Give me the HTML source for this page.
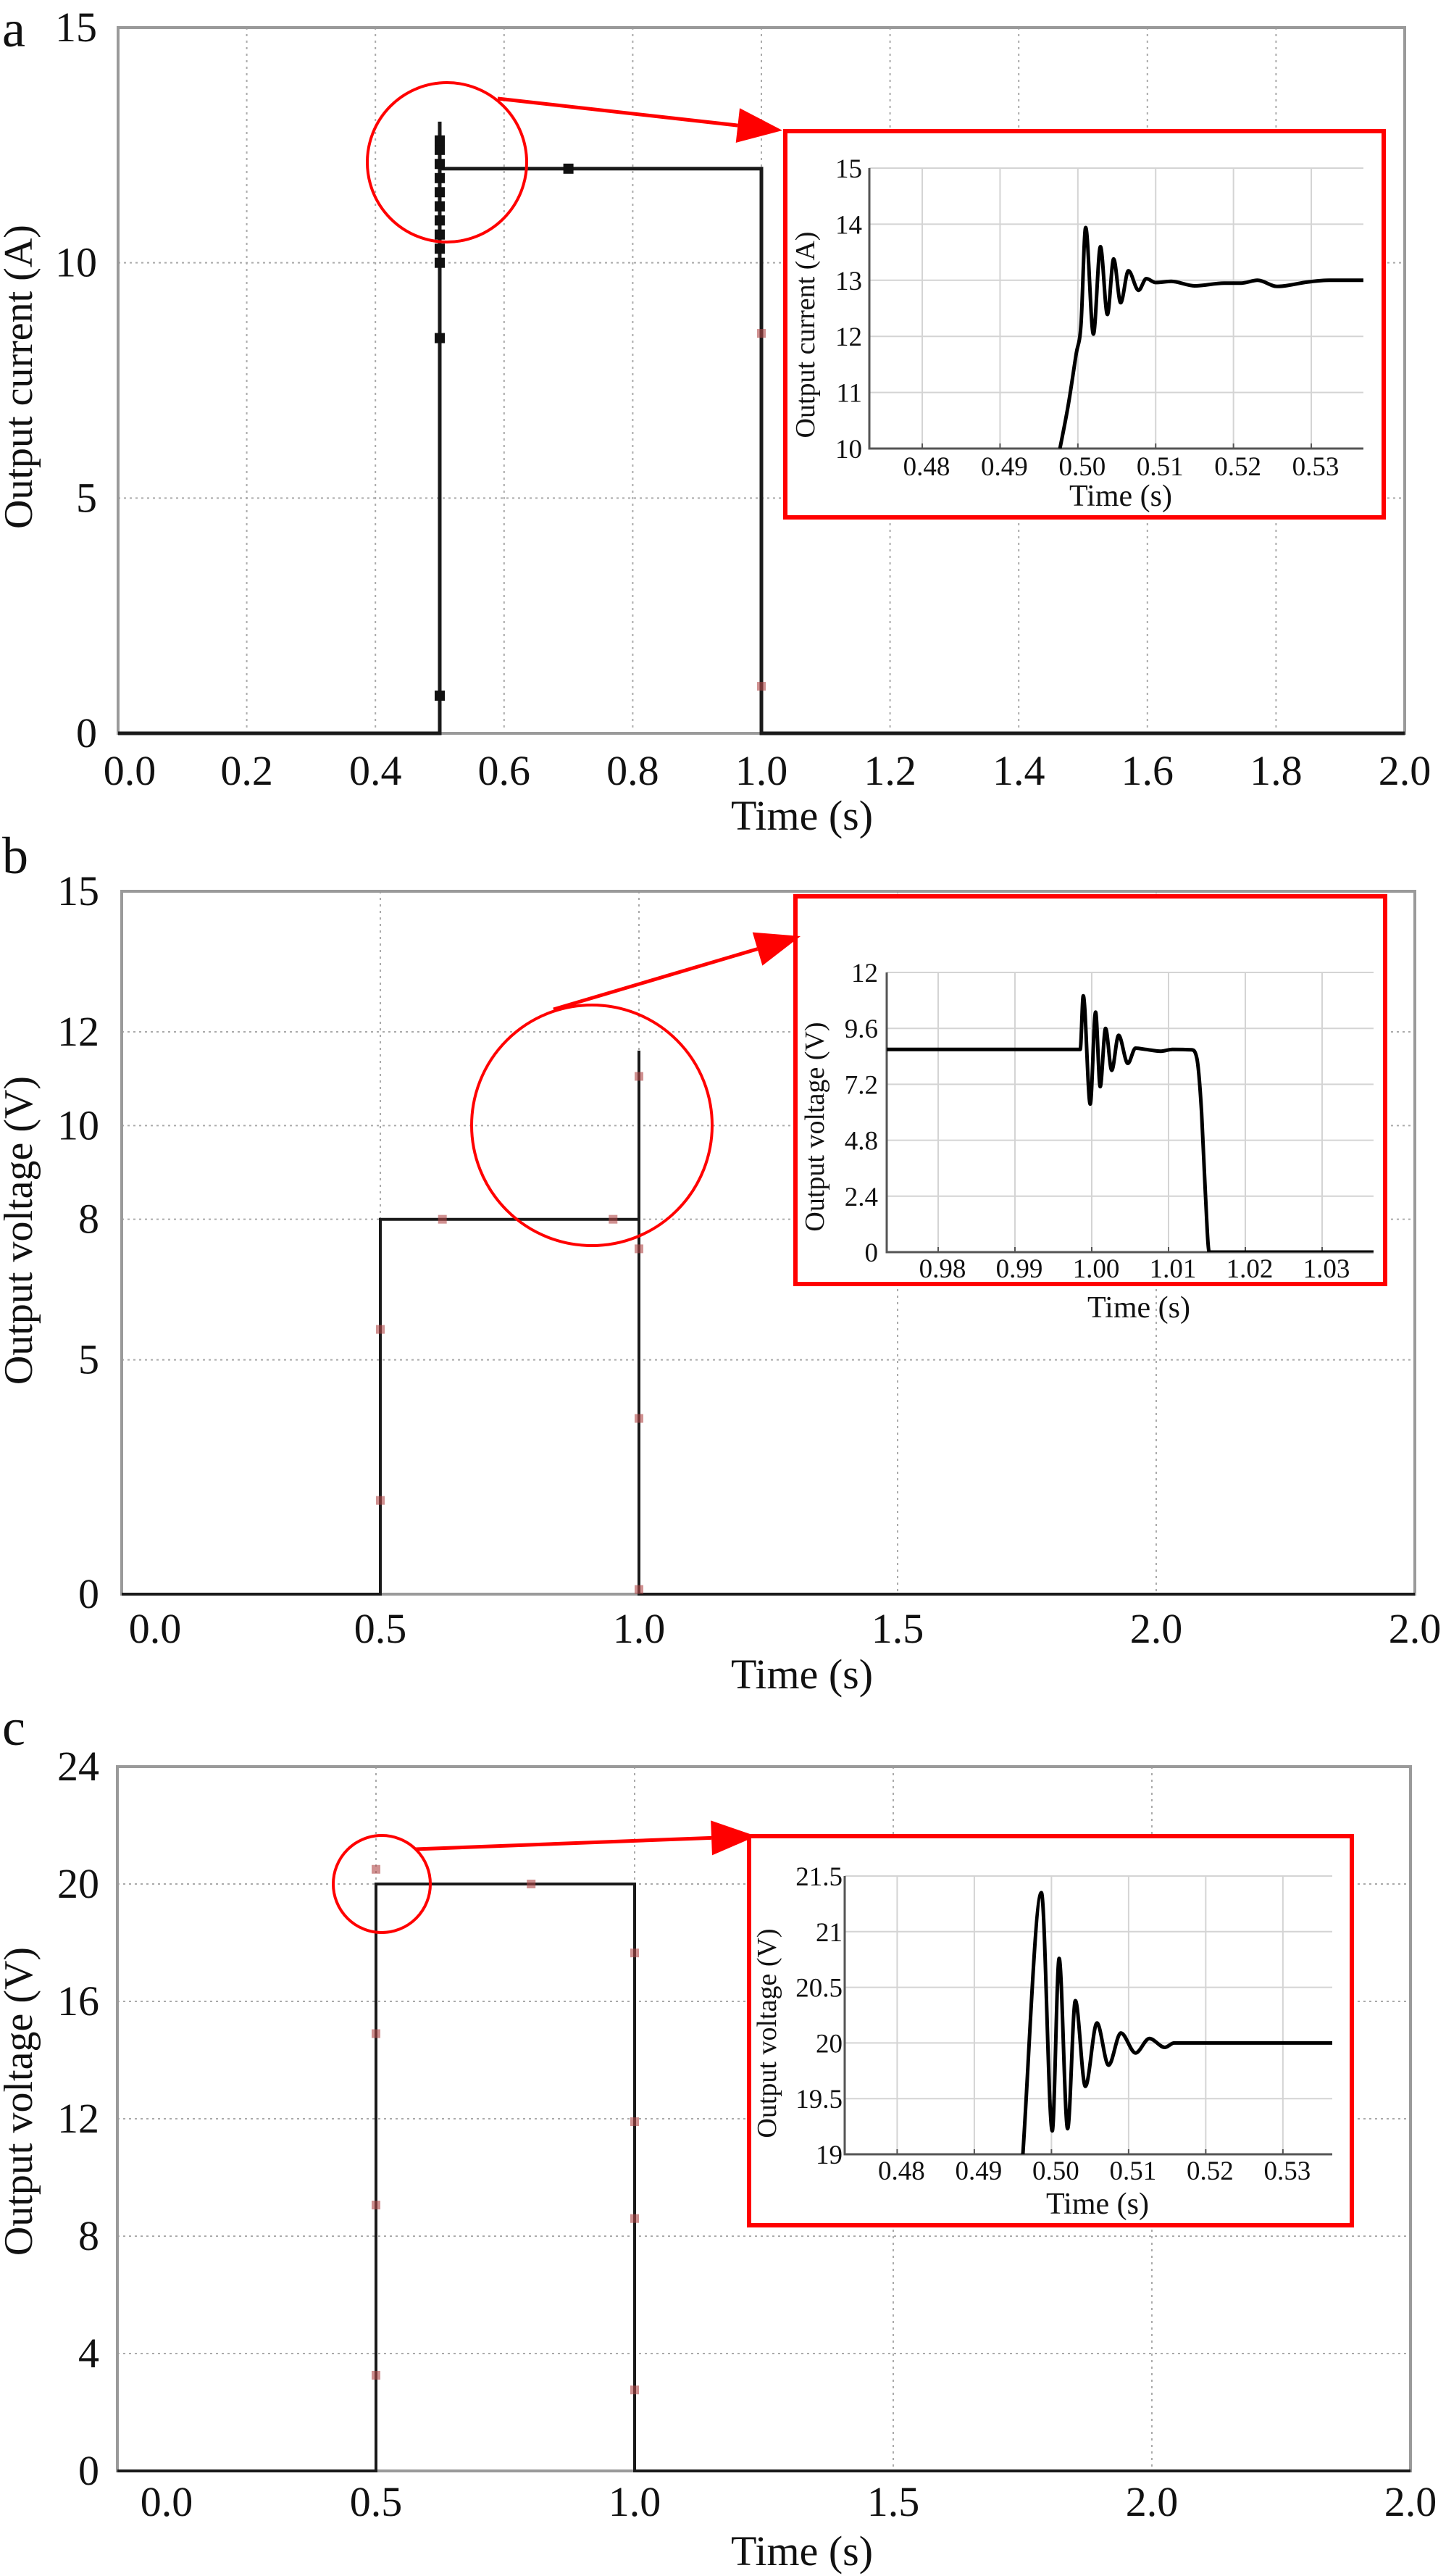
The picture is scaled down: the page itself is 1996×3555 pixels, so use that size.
<!DOCTYPE html>
<html><head><meta charset="utf-8"><title>Output current and voltage responses</title>
<style>
html,body{margin:0;padding:0;background:#fff;}
svg{display:block;}
text{font-family:"Liberation Serif","Times New Roman",serif;fill:#111;}
</style></head>
<body>
<svg id="fig" width="1996" height="3555" viewBox="0 0 1996 3555" xmlns="http://www.w3.org/2000/svg" font-family="Liberation Serif, serif"></svg>
<script>
// ---------- Panel a data ----------
const stepT_a = [0, 0.5, 0.5, 0.5, 1.0, 1.0, 2.0];
const stepV_a = [0, 0, 13, 12, 12, 0, 0];
const markT_a = [0.5,0.5,0.5,0.5,0.5,0.5,0.5,0.5,0.5,0.5,0.5,0.5,0.7];
const markV_a = [0.8,8.4,10.0,10.3,10.6,10.9,11.2,11.5,11.8,12.1,12.4,12.6,12.0];
const redT_a = [1.0, 1.0];
const redV_a = [8.5, 1.0];
const xTicks_a = [0,0.2,0.4,0.6,0.8,1.0,1.2,1.4,1.6,1.8,2.0];
const xLabels_a = ["0.0","0.2","0.4","0.6","0.8","1.0","1.2","1.4","1.6","1.8","2.0"];
const yTicks_a = [0,5,10,15];
const yGrid_a = [5,10];
// inset a
const insT_a = [0.4977,0.4988,0.4998,0.5004,0.5010,0.5020,0.5029,0.5038,0.5046,0.5055,0.5065,0.5078,0.5088,0.5100,0.5120,0.5150,0.5188,0.5210,0.5231,0.5256,0.5296,0.5323,0.5367];
const insV_a = [10.0,10.8,11.7,12.2,13.94,12.04,13.6,12.39,13.38,12.6,13.17,12.82,13.03,12.96,12.98,12.9,12.95,12.95,13.0,12.89,12.97,13.0,13.0];
const insXT_a = [0.48,0.49,0.50,0.51,0.52,0.53];
const insXL_a = ["0.48","0.49","0.50","0.51","0.52","0.53"];
const insYT_a = [10,11,12,13,14,15];

// ---------- Panel b data ----------
const stepT_b = [0, 0.5, 0.5, 1.0, 1.0, 1.0, 2.5];
const stepV_b = [0, 0, 8, 8, 11.6, 0, 0];
const redT_b = [0.5,0.5,0.62,0.95,1.0,1.0,1.0,1.0];
const redV_b = [5.65,2.0,8.0,8.0,11.05,7.37,3.75,0.1];
const xTicks_b = [0,0.5,1.0,1.5,2.0,2.5];
const xLabels_b = ["0.0","0.5","1.0","1.5","2.0","2.0"];
const xGrid_b = [0.5,1.0,1.5,2.0];
const yTicks_b = [0,5,8,10,12,15];
const yGrid_b = [5,8,10,12];
// inset b
const insT_b = [0.9733,0.9985,0.9989,0.9998,1.0005,1.0011,1.0018,1.0026,1.0035,1.0047,1.0057,1.0070,1.0090,1.0105,1.0130,1.0137,1.0143,1.0148,1.0153,1.0367];
const insV_b = [8.7,8.7,11.0,6.35,10.3,7.1,9.6,7.8,9.3,8.1,8.75,8.7,8.62,8.7,8.68,8.3,6.0,2.5,0,0];
const insXT_b = [0.98,0.99,1.00,1.01,1.02,1.03];
const insXL_b = ["0.98","0.99","1.00","1.01","1.02","1.03"];
const insYT_b = [0,2.4,4.8,7.2,9.6,12];
const insYL_b = ["0","2.4","4.8","7.2","9.6","12"];

// ---------- Panel c data ----------
const stepT_c = [0, 0.5, 0.5, 1.0, 1.0, 2.5];
const stepV_c = [0, 0, 20, 20, 0, 0];
const redT_c = [0.5,0.5,0.5,0.5,0.8,1.0,1.0,1.0,1.0];
const redV_c = [20.5,14.9,9.06,3.26,20.0,17.65,11.9,8.6,2.76];
const xTicks_c = [0,0.5,1.0,1.5,2.0,2.5];
const xLabels_c = ["0.0","0.5","1.0","1.5","2.0","2.0"];
const xGrid_c = [0.5,1.0,1.5,2.0];
const yTicks_c = [0,4,8,12,16,20,24];
const yGrid_c = [4,8,12,16,20];
// inset c
const insT_c = [0.4962,0.4987,0.5001,0.5010,0.5021,0.5031,0.5044,0.5059,0.5074,0.5090,0.5109,0.5127,0.5147,0.5159,0.5367];
const insV_c = [18.9,21.35,19.21,20.76,19.23,20.38,19.61,20.18,19.8,20.09,19.91,20.04,19.96,20.0,20.0];
const insXT_c = [0.48,0.49,0.50,0.51,0.52,0.53];
const insXL_c = ["0.48","0.49","0.50","0.51","0.52","0.53"];
const insYT_c = [19,19.5,20,20.5,21,21.5];
const insYL_c = ["19","19.5","20","20.5","21","21.5"];

const NS = 'http://www.w3.org/2000/svg';
const svg = document.getElementById('fig');
function mk(tag, attrs, parent){
  const e = document.createElementNS(NS, tag);
  for (const k in attrs) e.setAttribute(k, attrs[k]);
  (parent || svg).appendChild(e);
  return e;
}
function lin(d0,d1,r0,r1){ return v => r0 + (v-d0)/(d1-d0)*(r1-r0); }
function txt(x,y,s,size,anchor,parent){
  const t = mk('text',{x:x,y:y,'font-size':size,'text-anchor':anchor||'middle','font-family':'Liberation Serif, serif'},parent);
  t.textContent = s;
  return t;
}
// monotone cubic (Fritsch-Carlson) path through pixel points
function smoothPath(px, py){
  const n = px.length;
  const d = [], m = [];
  for (let i=0;i<n-1;i++){ d.push((py[i+1]-py[i])/(px[i+1]-px[i])); }
  for (let i=0;i<n;i++){
    if (i===0) m.push(d[0]);
    else if (i===n-1) m.push(d[n-2]);
    else if (d[i-1]*d[i] <= 0) m.push(0);
    else m.push((d[i-1]+d[i])/2);
  }
  for (let i=0;i<n-1;i++){
    if (d[i]===0){ m[i]=0; m[i+1]=0; continue; }
    const a = m[i]/d[i], b = m[i+1]/d[i];
    const s2 = a*a+b*b;
    if (s2 > 9){ const tau = 3/Math.sqrt(s2); m[i]=tau*a*d[i]; m[i+1]=tau*b*d[i]; }
  }
  let s = 'M'+px[0].toFixed(1)+','+py[0].toFixed(1);
  for (let i=0;i<n-1;i++){
    const h = px[i+1]-px[i];
    s += ' C'+(px[i]+h/3).toFixed(1)+','+(py[i]+m[i]*h/3).toFixed(1)+' '+(px[i+1]-h/3).toFixed(1)+','+(py[i+1]-m[i+1]*h/3).toFixed(1)+' '+px[i+1].toFixed(1)+','+py[i+1].toFixed(1);
  }
  return s;
}

function drawMain(p){
  const g = mk('g',{});
  
  
  const xs = lin(p.xd[0],p.xd[1],p.x0,p.x1);
  const ys = lin(p.yd[0],p.yd[1],p.y0,p.y1);
  p.xGrid.forEach(v=>{
    const l = mk('line',{x1:xs(v),x2:xs(v),y1:p.y1,y2:p.y0,stroke:'#aaa','stroke-width':2,'stroke-dasharray':'3,6'},g);
    
    
  });
  p.yGrid.forEach(v=>{
    const l = mk('line',{x1:p.x0,x2:p.x1,y1:ys(v),y2:ys(v),stroke:'#aaa','stroke-width':2,'stroke-dasharray':'3,5'},g);
    
    
  });
  const fr = mk('rect',{x:p.x0,y:p.y1,width:p.x1-p.x0,height:p.y0-p.y1,fill:'none',stroke:'#9a9a9a','stroke-width':4},g);
  
  
  let d = '';
  p.st.forEach((t,i)=>{ d += (i?'L':'M')+xs(t).toFixed(1)+','+ys(p.sv[i]).toFixed(1)+' '; });
  const s = mk('path',{d:d,fill:'none',stroke:'#1a1a1a','stroke-width':p.lw,'stroke-linejoin':'miter'},g);
  
  
  (p.mt||[]).forEach((t,i)=>{
    const r = mk('rect',{x:xs(t)-7,y:ys(p.mv[i])-7,width:14,height:14,fill:'#111'},g);
    
    
  });
  (p.rt||[]).forEach((t,i)=>{
    const r = mk('rect',{x:xs(t)-6,y:ys(p.rv[i])-6,width:12,height:12,fill:'#b04848','fill-opacity':0.6},g);
    
    
  });
  p.yTicks.forEach(v=>{
    const t = txt(p.yLabX, ys(v)+19, String(v), 58, 'end', g);
    
    
  });
  p.xTicks.forEach((v,i)=>{
    let cx = xs(v);
    if (i===0) cx = p.x0 + p.firstOff;
    if (i===p.xTicks.length-1) cx = Math.min(cx, 1962);
    const t = txt(cx, p.xLabY, p.xLabels[i], 58, 'middle', g);
    
    
  });
  const xt = txt(1107, p.xTitleY, 'Time (s)', 58, 'middle', g);
  
  
  const yt = txt(0, 0, p.yTitle, 56, 'middle', g);
  yt.setAttribute('transform', 'translate(44,'+p.yTitleC+') rotate(-90)');
  
  
  const lt = txt(3, p.letterY, p.letter, 72, 'start', g);
  
  
}

function drawInset(p){
  const g = mk('g',{});
  
  
  const bx = mk('rect',{x:p.bx0,y:p.by0,width:p.bx1-p.bx0,height:p.by1-p.by0,fill:'#fff',stroke:'#f00','stroke-width':6},g);
  
  
  const xs = lin(p.xd[0],p.xd[1],p.x0,p.x1);
  const ys = lin(p.yd[0],p.yd[1],p.y0,p.y1);
  p.xt.forEach(v=>{
    const l = mk('line',{x1:xs(v),x2:xs(v),y1:p.y1,y2:p.y0,stroke:'#d4d4d4','stroke-width':2},g);
    
    
  });
  p.yt.forEach(v=>{
    const l = mk('line',{x1:p.x0,x2:p.x1,y1:ys(v),y2:ys(v),stroke:'#d4d4d4','stroke-width':2},g);
    
    
  });
  const ax = mk('path',{d:'M'+p.x0+','+p.y1+' L'+p.x0+','+p.y0+' L'+p.x1+','+p.y0,fill:'none',stroke:'#555','stroke-width':3},g);
  
  
  p.xt.forEach(v=>{
    const l = mk('line',{x1:xs(v),x2:xs(v),y1:p.y0,y2:p.y0-7,stroke:'#555','stroke-width':2},g);
    
    
  });
  const cid = 'clip-'+p.name;
  const cp = mk('clipPath',{id:cid},g);
  mk('rect',{x:p.x0,y:p.y1,width:p.x1-p.x0,height:p.y0-p.y1},cp);
  const px = p.t.map(xs), py = p.v.map(ys);
  const c = mk('path',{d:smoothPath(px,py),fill:'none',stroke:'#000','stroke-width':5,'stroke-linejoin':'round','clip-path':'url(#'+cid+')'},g);
  
  
  p.yt.forEach((v,i)=>{
    const t = txt(p.yLabX, ys(v)+13, p.yl[i], 37, 'end', g);
    t.setAttribute('fill', '#333');
    
    
  });
  p.xt.forEach((v,i)=>{
    const t = txt(xs(v)+6, p.xLabY, p.xl[i], 37, 'middle', g);
    t.setAttribute('fill', '#333');
    
    
  });
  const xt = txt(p.tx, p.ty, 'Time (s)', 42, 'middle', g);
  
  
  const yt = txt(0,0,p.yTitle,38,'middle',g);
  yt.setAttribute('transform','translate('+p.ytx+','+p.yty+') rotate(-90)');
  
  
}

function drawCallout(name, cx, cy, r, ax0, ay0, ax1, ay1){
  const g = mk('g',{});
  
  
  const c = mk('circle',{cx:cx,cy:cy,r:r,fill:'none',stroke:'#f00','stroke-width':4},g);
  
  
  const dx = ax1-ax0, dy = ay1-ay0, L = Math.hypot(dx,dy), ux = dx/L, uy = dy/L;
  const hl = 62, hw = 24;
  const bxp = ax1-ux*hl, byp = ay1-uy*hl;
  const l = mk('line',{x1:ax0,y1:ay0,x2:bxp,y2:byp,stroke:'#f00','stroke-width':5},g);
  
  
  const h = mk('polygon',{points:ax1+','+ay1+' '+(bxp-uy*hw)+','+(byp+ux*hw)+' '+(bxp+uy*hw)+','+(byp-ux*hw),fill:'#f00'},g);
  
  
}

drawMain({name:'panel-a-current-chart',xd:[0,2],yd:[0,15],x0:163,x1:1939,y0:1012,y1:38,
  xGrid:[0.2,0.4,0.6,0.8,1.0,1.2,1.4,1.6,1.8],yGrid:yGrid_a,st:stepT_a,sv:stepV_a,lw:5,
  mt:markT_a,mv:markV_a,rt:redT_a,rv:redV_a,yTicks:yTicks_a,yLabX:134,xTicks:xTicks_a,xLabels:xLabels_a,
  firstOff:16,xLabY:1083,xTitleY:1145,yTitle:'Output current (A)',yTitleC:520,letter:'a',letterY:64});
drawInset({name:'inset-a',bx0:1084,by0:181,bx1:1910,by1:714,xd:[0.4732,0.5367],yd:[10,15],x0:1200,x1:1882,y0:619,y1:232,
  xt:insXT_a,xl:insXL_a,yt:insYT_a,yl:insYT_a.map(String),t:insT_a,v:insV_a,yLabX:1190,xLabY:656,tx:1547,ty:698,
  yTitle:'Output current (A)',ytx:1124,yty:462});
drawCallout('callout-a',617,224,110,687,136,1080,180);

drawMain({name:'panel-b-voltage-chart',xd:[0,2.5],yd:[0,15],x0:168,x1:1953,y0:2200,y1:1230,
  xGrid:xGrid_b,yGrid:yGrid_b,st:stepT_b,sv:stepV_b,lw:4,rt:redT_b,rv:redV_b,yTicks:yTicks_b,yLabX:137,
  xTicks:xTicks_b,xLabels:xLabels_b,firstOff:46,xLabY:2267,xTitleY:2330,yTitle:'Output voltage (V)',yTitleC:1698,letter:'b',letterY:1205});
drawInset({name:'inset-b',bx0:1098,by0:1237,bx1:1912,by1:1772,xd:[0.9733,1.0367],yd:[0,12],x0:1224,x1:1896,y0:1728,y1:1342,
  xt:insXT_b,xl:insXL_b,yt:insYT_b,yl:insYL_b,t:insT_b,v:insV_b,yLabX:1212,xLabY:1763,tx:1572,ty:1818,
  yTitle:'Output voltage (V)',ytx:1137,yty:1555});
drawCallout('callout-b',817,1553,166,764,1393,1105,1292);

drawMain({name:'panel-c-voltage-chart',xd:[0,2.5],yd:[0,24],x0:162,x1:1947,y0:3410,y1:2438,
  xGrid:xGrid_c,yGrid:yGrid_c,st:stepT_c,sv:stepV_c,lw:4,rt:redT_c,rv:redV_c,yTicks:yTicks_c,yLabX:137,
  xTicks:xTicks_c,xLabels:xLabels_c,firstOff:68,xLabY:3472,xTitleY:3540,yTitle:'Output voltage (V)',yTitleC:2900,letter:'c',letterY:2408});
drawInset({name:'inset-c',bx0:1034,by0:2534,bx1:1866,by1:3071,xd:[0.4732,0.5364],yd:[19,21.5],x0:1166,x1:1839,y0:2973,y1:2589,
  xt:insXT_c,xl:insXL_c,yt:insYT_c,yl:insYL_c,t:insT_c,v:insV_c,yLabX:1163,xLabY:3008,tx:1515,ty:3055,
  yTitle:'Output voltage (V)',ytx:1071,yty:2806});
drawCallout('callout-c',527,2600,67,573,2552,1044,2534);
</script>
</body></html>
